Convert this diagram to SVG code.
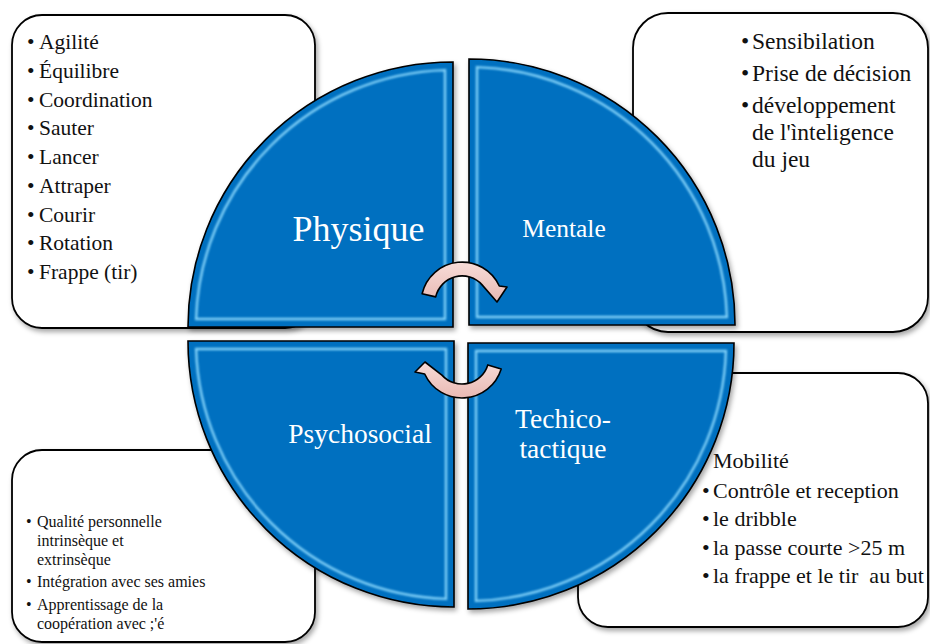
<svg xmlns="http://www.w3.org/2000/svg" width="930" height="644" viewBox="0 0 930 644">
<defs>
  <filter id="sh" x="-10%" y="-10%" width="130%" height="130%">
    <feDropShadow dx="2" dy="3" stdDeviation="2.5" flood-color="#000" flood-opacity="0.35"/>
  </filter>
  <filter id="blur" x="-5%" y="-5%" width="110%" height="110%">
    <feGaussianBlur stdDeviation="0.9"/>
  </filter>
  <linearGradient id="pink" x1="0" y1="0" x2="0" y2="1">
    <stop offset="0" stop-color="#f7dcd8"/>
    <stop offset="1" stop-color="#e9b9b3"/>
  </linearGradient>
</defs>
<style>
  .box{fill:#fff;stroke:#000;stroke-width:1.8;filter:url(#sh)}
  .q{fill:#0070c0;stroke:#000;stroke-width:1.6;filter:url(#sh)}
  .bev{fill:none;stroke:#8fdcff;stroke-width:2.4;filter:url(#blur);stroke-linejoin:miter;opacity:0.9}
  text{font-family:"Liberation Serif","Times New Roman",serif}
  .t text{fill:#111}
  .lbl{fill:#fff}
  .arr{fill:url(#pink);stroke:#000;stroke-width:1.6;stroke-linejoin:round}
</style>

<g id="box-physique">
  <rect class="box" x="12" y="15" width="303" height="313" rx="30"/>
  <g class="t" font-size="21.5" font-family="Liberation Serif, serif">
    <text x="27" y="49">•</text><text x="39" y="49">Agilité</text>
    <text x="27" y="78">•</text><text x="39" y="78">Équilibre</text>
    <text x="27" y="106.5">•</text><text x="39" y="106.5">Coordination</text>
    <text x="27" y="135">•</text><text x="39" y="135">Sauter</text>
    <text x="27" y="164">•</text><text x="39" y="164">Lancer</text>
    <text x="27" y="193">•</text><text x="39" y="193">Attraper</text>
    <text x="27" y="221.5">•</text><text x="39" y="221.5">Courir</text>
    <text x="27" y="250">•</text><text x="39" y="250">Rotation</text>
    <text x="27" y="279">•</text><text x="39" y="279">Frappe (tir)</text>
  </g>
</g>

<g id="box-mentale">
  <rect class="box" x="633" y="13" width="295" height="319" rx="35"/>
  <g class="t" font-size="23.5" font-family="Liberation Serif, serif">
    <text x="741" y="49">•</text><text x="752" y="49">Sensibilation</text>
    <text x="741" y="81">•</text><text x="752" y="81">Prise de décision</text>
    <text x="741" y="113">•</text><text x="752" y="113">développement</text>
    <text x="752" y="140">de l'ìnteligence</text>
    <text x="752" y="167">du jeu</text>
  </g>
</g>

<g id="box-psychosocial">
  <rect class="box" x="12" y="450" width="303" height="192" rx="30"/>
  <g class="t" font-size="16" font-family="Liberation Serif, serif">
    <text x="26" y="527">•</text><text x="37" y="527">Qualité personnelle</text>
    <text x="37" y="546">intrinsèque et</text>
    <text x="37" y="565">extrinsèque</text>
    <text x="26" y="587">•</text><text x="37" y="587">Intégration avec ses amies</text>
    <text x="26" y="610">•</text><text x="37" y="610">Apprentissage de la</text>
    <text x="37" y="629">coopération avec ;'é</text>
  </g>
</g>

<g id="box-techico">
  <rect class="box" x="578" y="373" width="350" height="254" rx="30"/>
  <g class="t" font-size="22" font-family="Liberation Serif, serif">
    <text x="713" y="468">Mobilité</text>
    <text x="702" y="498">•</text><text x="713" y="498">Contrôle et reception</text>
    <text x="702" y="526">•</text><text x="713" y="526">le dribble</text>
    <text x="702" y="555">•</text><text x="713" y="555">la passe courte &gt;25 m</text>
    <text x="702" y="583">•</text><text x="713" y="583">la frappe et le tir&#160; au but</text>
  </g>
</g>

<g id="node-physique">
  <path class="q" d="M453 327 L188 327 A265 265 0 0 1 453 62 Z"/>
  <path class="bev" d="M445 319 L196.1 319 A257 257 0 0 1 445 70.1 Z"/>
  <text class="lbl" x="358.5" y="241" font-size="36" text-anchor="middle">Physique</text>
</g>

<g id="node-mentale">
  <path class="q" d="M469 325 L469 59 A266 266 0 0 1 735 325 Z"/>
  <path class="bev" d="M477 317 L477 67.1 A258 258 0 0 1 726.9 317 Z"/>
  <text class="lbl" x="564" y="237" font-size="25.5" text-anchor="middle">Mentale</text>
</g>

<g id="node-psychosocial">
  <path class="q" d="M454 341 L454 607 A266 266 0 0 1 188 341 Z"/>
  <path class="bev" d="M446 349 L446 598.9 A258 258 0 0 1 196.1 349 Z"/>
  <text class="lbl" x="360" y="443" font-size="27.5" text-anchor="middle">Psychosocial</text>
</g>

<g id="node-techico">
  <path class="q" d="M468 343 L734 343 A266 266 0 0 1 468 609 Z"/>
  <path class="bev" d="M476 351 L725.9 351 A258 258 0 0 1 476 600.9 Z"/>
  <text class="lbl" x="563" y="428" font-size="27.5" text-anchor="middle">Techico-</text>
  <text class="lbl" x="563" y="458" font-size="27.5" text-anchor="middle">tactique</text>
</g>

<g id="connectors">
  <path class="arr" d="M422.1 293.8 A41 41 0 0 1 499.3 286 L507 287 L497 302 L482.1 284.9 A27 27 0 0 0 435.7 296.9 Z"/>
  <path class="arr" d="M501.2 369 A41 41 0 0 1 424.7 374 L415 372 L425 362 L441.9 375.1 A27 27 0 0 0 487.8 364.9 Z"/>
</g>
</svg>
